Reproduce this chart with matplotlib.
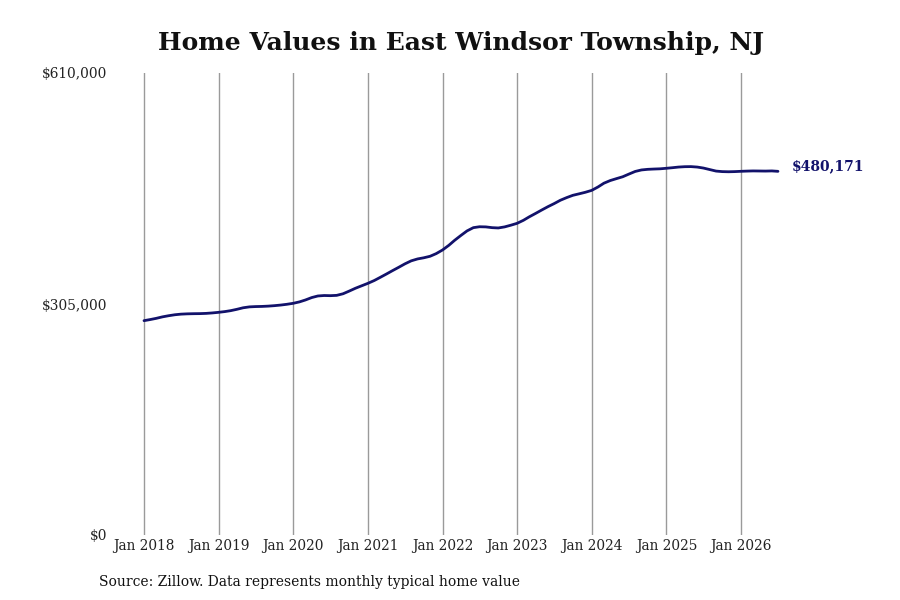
import numpy as np
import pandas as pd
import matplotlib
matplotlib.use('Agg')
import matplotlib.pyplot as plt

# DATOS (valores mensuales, miles de dolares)
v2018 = [283.0, 284.5, 286.0, 288.0, 289.5, 290.8, 291.6, 292.0, 292.2, 292.3, 292.6, 293.2]
v2019 = [294.0, 295.0, 296.2, 298.0, 300.0, 301.2, 301.6, 301.8, 302.2, 302.8, 303.6, 304.6]
v2020 = [305.9, 307.8, 310.3, 313.5, 315.6, 316.2, 316.0, 316.4, 318.5, 322.0, 325.8, 329.0]
v2021 = [332.3, 336.0, 340.0, 344.5, 349.0, 353.5, 358.0, 362.0, 364.5, 366.0, 368.0, 371.5]
v2022 = [376.3, 382.5, 389.0, 395.5, 401.5, 405.8, 407.0, 406.8, 405.8, 405.4, 406.8, 409.0]
v2023 = [411.5, 415.5, 420.0, 424.5, 429.0, 433.5, 437.5, 442.0, 445.5, 448.5, 450.5, 452.5]
v2024 = [455.0, 459.5, 464.5, 468.0, 470.5, 473.0, 476.5, 480.0, 482.0, 482.8, 483.2, 483.5]
v2025 = [484.2, 485.0, 485.8, 486.3, 486.4, 485.8, 484.5, 482.5, 480.5, 479.8, 479.6, 479.8]
v2026 = [480.2, 480.5, 480.7, 480.6, 480.5, 480.7, 480.171]

valores = np.array(v2018 + v2019 + v2020 + v2021 + v2022 + v2023 + v2024 + v2025 + v2026) * 1000
fechas = pd.date_range('2018-01-01', periods=len(valores), freq='MS')

anios = list(range(2018, 2027))
ticks_x = pd.to_datetime([f'{a}-01-01' for a in anios])
etiquetas_x = [f'Jan {a}' for a in anios]
ticks_y = [0, 305000, 610000]
etiquetas_y = ['$0', '$305,000', '$610,000']

titulo = 'Home Values in East Windsor Township, NJ'
fuente = 'Source: Zillow. Data represents monthly typical home value'
ultimo = '$480,171'
azul = '#12126b'

# GRAFICA
fig = plt.figure(figsize=(9, 6), dpi=100)
ax = fig.add_axes([0.125, 1 - 535/600, 0.755, (535 - 73)/600])

ax.plot(fechas, valores, color=azul, linewidth=2.0, solid_capstyle='round')

# escala: Jan 2018 en x=144px, Jan 2026 en x=741px
d0 = matplotlib.dates.date2num(ticks_x[0])
d8 = matplotlib.dates.date2num(ticks_x[-1])
pxdia = (741 - 144) / (d8 - d0)
izq = 0.125 * 900
der = izq + 0.755 * 900
ax.set_xlim(d0 - (144 - izq) / pxdia, d0 + (der - 144) / pxdia)
ax.set_ylim(0, 610000)

for t in ticks_x:
    ax.axvline(t, color='#9a9a9a', linewidth=1, zorder=0)

ax.set_xticks(ticks_x)
ax.set_xticklabels(etiquetas_x, family='DejaVu Serif', stretch='condensed', fontsize=11)
ax.set_yticks(ticks_y)
ax.set_yticklabels(etiquetas_y, family='DejaVu Serif', stretch='condensed', fontsize=11)
ax.tick_params(axis='both', length=0, colors='#222222')
ax.tick_params(axis='y', pad=4)
ax.tick_params(axis='x', pad=3)
for s in ax.spines.values():
    s.set_visible(False)

ax.annotate(ultimo, xy=(fechas[-1], valores[-1]), xytext=(10, 4), textcoords='offset points',
            va='center', ha='left', color=azul, fontweight='bold', family='DejaVu Serif',
            fontsize=10)

fig.text(0.512, 1 - 43/600, titulo, ha='center', va='center', fontsize=18,
         fontweight='bold', family='DejaVu Serif', color='#111111')
fig.text(99/900, 1 - 582/600, fuente, ha='left', va='center', fontsize=11.05,
         family='DejaVu Serif', stretch='condensed', color='#111111')

plt.savefig('out.png', dpi=100)
